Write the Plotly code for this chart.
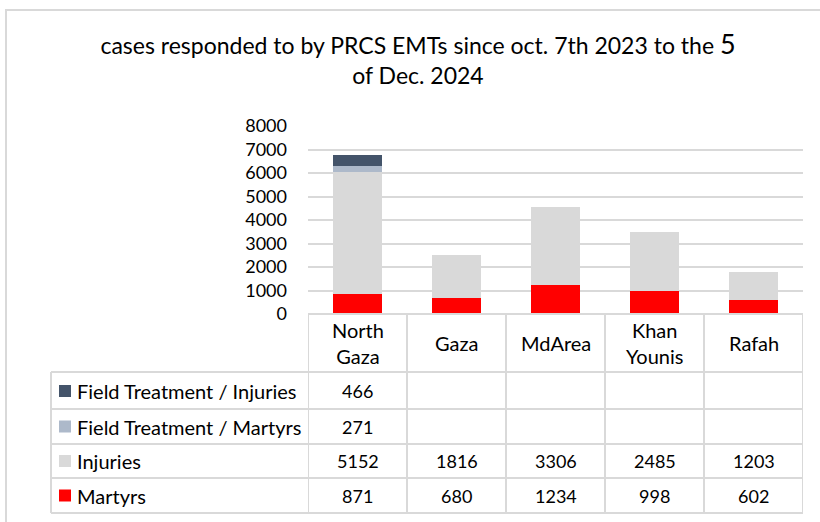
import plotly.graph_objects as go

categories = ["North Gaza", "Gaza", "MdArea", "Khan Younis", "Rafah"]
category_labels = ["North<br>Gaza", "Gaza", "MdArea", "Khan<br>Younis", "Rafah"]
martyrs = [871, 680, 1234, 998, 602]
injuries = [5152, 1816, 3306, 2485, 1203]
ft_martyrs = [271, None, None, None, None]
ft_injuries = [466, None, None, None, None]
y_ticks = [0, 1000, 2000, 3000, 4000, 5000, 6000, 7000, 8000]

series = [
    ("Martyrs", martyrs, "#ff0000"),
    ("Injuries", injuries, "#d9d9d9"),
    ("Field Treatment / Martyrs", ft_martyrs, "#adb9ca"),
    ("Field Treatment / Injuries", ft_injuries, "#44546a"),
]

W, H = 820, 522
L, R, T, B = 308, 803, 126, 314
PW, PH = R - L, B - T
FONT = "Lato"
GRID = "#d9d9d9"


def px(x):
    return (x - L) / PW


def py(y):
    return (B - y) / PH


fig = go.Figure()
for name, vals, col in series:
    fig.add_trace(go.Bar(x=categories, y=vals, name=name, marker=dict(color=col, line=dict(width=0))))

shapes = []
annotations = []
# outer chart border
shapes.append(dict(type="rect", xref="paper", yref="paper", x0=px(6), x1=px(900), y0=py(10), y1=py(600),
                   line=dict(color=GRID, width=2), fillcolor="rgba(0,0,0,0)", layer="below"))
# table horizontal lines
shapes.append(dict(type="line", xref="paper", yref="paper", x0=px(308), x1=px(803), y0=py(314), y1=py(314),
                   line=dict(color=GRID, width=2)))
row_lines = [372, 409, 444, 478, 513]
for yl in row_lines:
    shapes.append(dict(type="line", xref="paper", yref="paper", x0=px(51), x1=px(803), y0=py(yl), y1=py(yl),
                       line=dict(color=GRID, width=2)))
# table vertical lines at category boundaries
for k in range(len(categories) + 1):
    shapes.append(dict(type="line", xref="x", yref="paper", x0=k - 0.5, x1=k - 0.5, y0=py(314), y1=py(513),
                       line=dict(color=GRID, width=2)))
shapes.append(dict(type="line", xref="paper", yref="paper", x0=px(51), x1=px(51), y0=py(372), y1=py(513),
                   line=dict(color=GRID, width=2)))

# header labels
for i, lab in enumerate(category_labels):
    annotations.append(dict(x=i, xref="x", y=py(343), yref="paper", text=lab, showarrow=False,
                            xanchor="center", yanchor="middle", font=dict(family=FONT, size=20, color="#000")))

# table rows (top to bottom: reversed series)
row_centers = [391, 426.5, 461, 495.5]
for (name, vals, col), yc in zip(series[::-1], row_centers):
    shapes.append(dict(type="rect", xref="paper", yref="paper", x0=px(59), x1=px(71), y0=py(yc - 6), y1=py(yc + 6),
                       fillcolor=col, line=dict(width=0)))
    annotations.append(dict(x=px(75), xref="paper", y=py(yc), yref="paper", text=name, showarrow=False,
                            xanchor="left", yanchor="middle", font=dict(family=FONT, size=20, color="#000")))
    for i, v in enumerate(vals):
        if v is None:
            continue
        annotations.append(dict(x=i, xref="x", y=py(yc), yref="paper", text=str(v), showarrow=False,
                                xanchor="center", yanchor="middle", font=dict(family=FONT, size=18, color="#000")))

fig.update_layout(
    width=W, height=H,
    margin=dict(l=L, r=W - R, t=T, b=H - B, pad=0),
    barmode="stack", bargap=0.5,
    showlegend=False,
    plot_bgcolor="white", paper_bgcolor="white",
    title=dict(text="cases responded to by PRCS EMTs since oct. 7th 2023 to the <span style='font-size:27px'>5</span><br>of Dec. 2024",
               x=418 / W, xanchor="center", y=1 - 54 / H, yanchor="middle", xref="container", yref="container",
               font=dict(family=FONT, size=23, color="#000")),
    xaxis=dict(range=[-0.5, len(categories) - 0.5], showticklabels=False, showgrid=False, zeroline=False,
               showline=False, ticks=""),
    yaxis=dict(range=[0, 8000], tickvals=y_ticks, showgrid=True, gridcolor=GRID, gridwidth=1.5, zeroline=False,
               showline=False, ticks="", ticklabelstandoff=20,
               tickfont=dict(family=FONT, size=18, color="#000")),
    shapes=shapes, annotations=annotations,
)

fig.write_html("out.html", post_script="document.body.style.margin='0';",
               config={"displayModeBar": False})
